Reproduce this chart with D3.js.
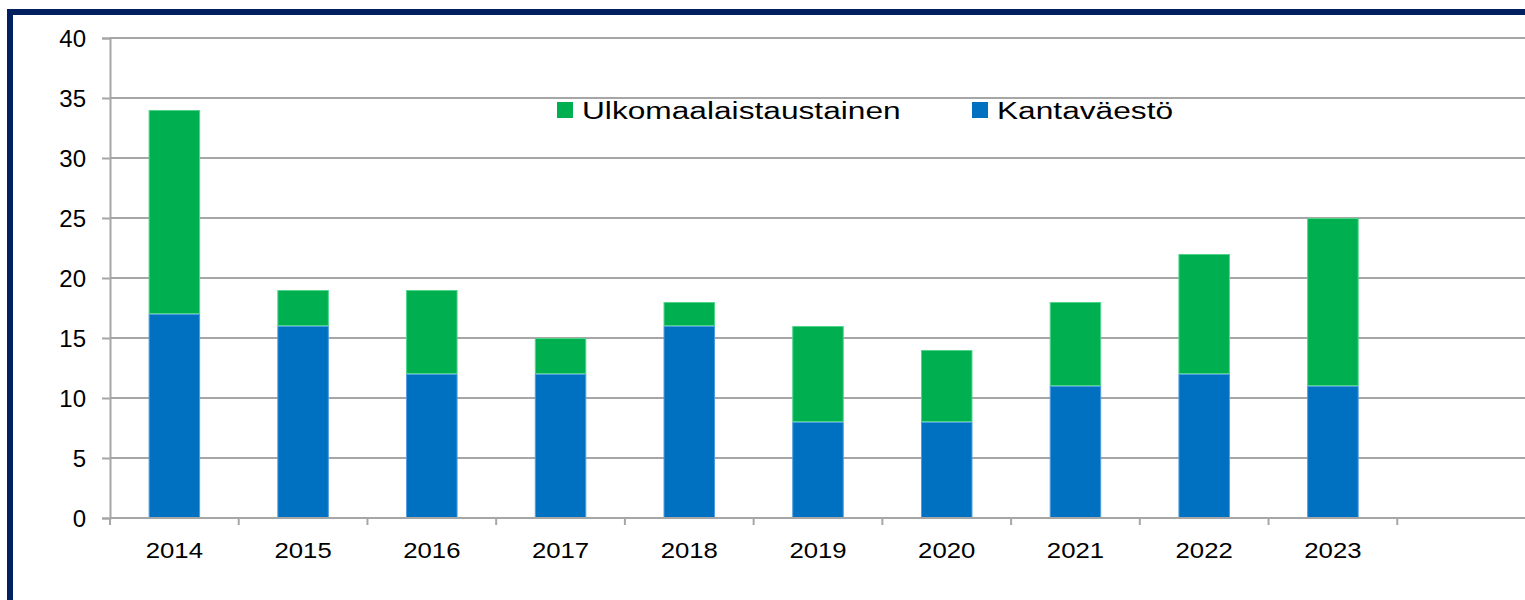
<!DOCTYPE html>
<html>
<head>
<meta charset="utf-8">
<script src="https://cdn.jsdelivr.net/npm/d3@7"></script>
<style>
  body { margin: 0; background: #fff; }
  svg { display: block; font-family: "Liberation Sans", Arial, sans-serif; }
</style>
</head>
<body>
<svg id="chart" width="1525" height="600"></svg>
<script>
const years = ["2014", "2015", "2016", "2017", "2018", "2019", "2020", "2021", "2022", "2023"];
const kantavaesto = [17, 16, 12, 12, 16, 8, 8, 11, 12, 11];
const ulkomaalaistaustainen = [17, 3, 7, 3, 2, 8, 6, 7, 10, 14];
const yTicks = [0, 5, 10, 15, 20, 25, 30, 35, 40];
const seriesNames = ["Ulkomaalaistaustainen", "Kantaväestö"];

const GREEN = "#00b050";
const BLUE = "#0070c0";

const svg = d3.select("#chart");

// frame
svg.append("rect")
  .attr("x", 10).attr("y", 12)
  .attr("width", 1600).attr("height", 700)
  .attr("fill", "none")
  .attr("stroke", "#002060")
  .attr("stroke-width", 6);

const plotLeft = 110, plotRight = 1526, plotTop = 38, plotBottom = 518;

// one empty slot after 2023, as in the original
const slots = [...years, ""];
const x = d3.scaleBand().domain(slots).range([plotLeft, plotRight]).padding(0);
const y = d3.scaleLinear().domain([0, 40]).range([plotBottom, plotTop]);

const rows = years.map((yr, i) => ({
  year: yr,
  kanta: kantavaesto[i],
  ulko: ulkomaalaistaustainen[i]
}));
const stack = d3.stack().keys(["kanta", "ulko"]);
const layers = stack(rows);

// gridlines
svg.append("g")
  .selectAll("line")
  .data(yTicks)
  .join("line")
  .attr("x1", plotLeft).attr("x2", 1525)
  .attr("y1", (d) => y(d)).attr("y2", (d) => y(d))
  .attr("stroke", "#a6a6a6")
  .attr("stroke-width", 2);

// bars
const barW = x.bandwidth() * 0.4;
const colors = { kanta: BLUE, ulko: GREEN };
const edges = { kanta: "#4f9be0", ulko: "#4fd48a" };

svg.append("g")
  .selectAll("g")
  .data(layers)
  .join("g")
  .attr("fill", (d) => colors[d.key])
  .attr("stroke", (d) => edges[d.key])
  .attr("stroke-width", 1)
  .selectAll("rect")
  .data((d) => d)
  .join("rect")
  .attr("x", (d) => x(d.data.year) + (x.bandwidth() - barW) / 2 + 0.5)
  .attr("y", (d) => y(d[1]) + 0.5)
  .attr("width", barW - 1)
  .attr("height", (d) => y(d[0]) - y(d[1]) - 1);

// y axis
const yAxis = svg.append("g")
  .attr("transform", `translate(${plotLeft},0)`)
  .call(d3.axisLeft(y).tickValues(yTicks).tickSize(8).tickPadding(16));
yAxis.select(".domain").attr("stroke", "#a6a6a6").attr("stroke-width", 2);
yAxis.selectAll(".tick line").attr("stroke", "#a6a6a6").attr("stroke-width", 2);
yAxis.selectAll(".tick text")
  .attr("font-size", 24)
  .attr("fill", "#000")
  .attr("dy", "0.36em");

// x axis: labels from axis, ticks on band boundaries
const xAxis = svg.append("g")
  .attr("transform", `translate(0,${plotBottom})`)
  .call(d3.axisBottom(x).tickSize(0).tickPadding(0));
xAxis.select(".domain").remove();
xAxis.selectAll(".tick text")
  .attr("font-size", 22)
  .attr("fill", "#000")
  .attr("y", 0)
  .attr("dy", 0)
  .attr("transform", "translate(0,40) scale(1.17,1)");

svg.append("line")
  .attr("x1", plotLeft).attr("x2", 1525)
  .attr("y1", plotBottom).attr("y2", plotBottom)
  .attr("stroke", "#a6a6a6").attr("stroke-width", 2);

svg.append("g")
  .selectAll("line")
  .data(slots)
  .join("line")
  .attr("x1", (d) => x(d)).attr("x2", (d) => x(d))
  .attr("y1", plotBottom).attr("y2", plotBottom + 7)
  .attr("stroke", "#a6a6a6").attr("stroke-width", 2);

// legend
const legendPos = [557, 972];
const legendColors = [GREEN, BLUE];
const legend = svg.append("g")
  .selectAll("g")
  .data(seriesNames)
  .join("g")
  .attr("transform", (d, i) => `translate(${legendPos[i]},102)`);
legend.append("rect")
  .attr("width", 16).attr("height", 16)
  .attr("fill", (d, i) => legendColors[i]);
legend.append("text")
  .attr("transform", "translate(25,17) scale(1.32,1)")
  .attr("font-size", 24)
  .attr("fill", "#000")
  .text((d) => d);
</script>
</body>
</html>
